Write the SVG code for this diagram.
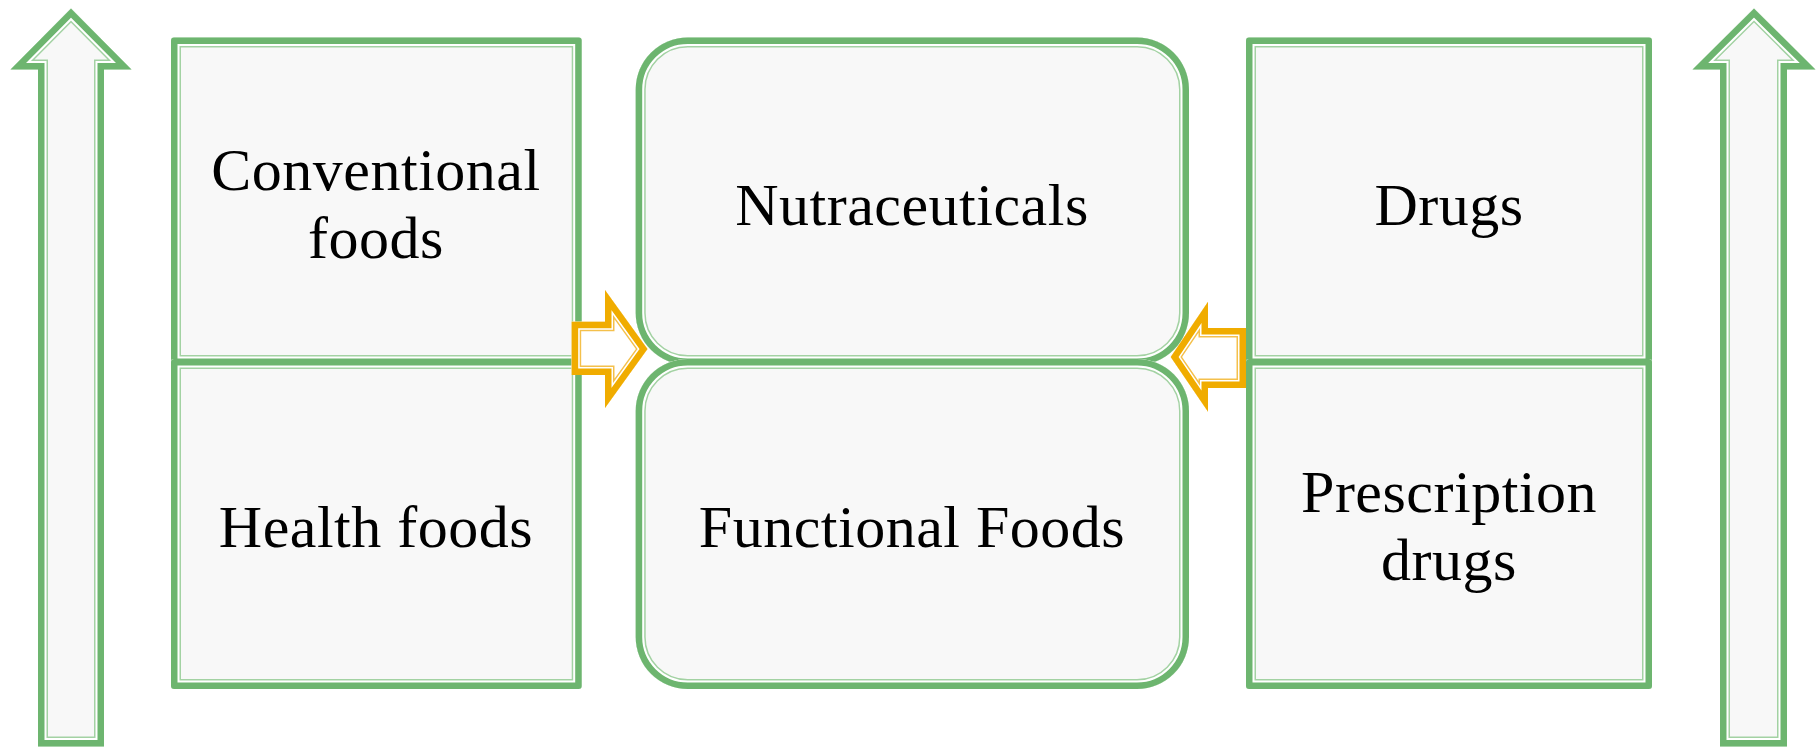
<svg xmlns="http://www.w3.org/2000/svg" xmlns:xlink="http://www.w3.org/1999/xlink" width="1819" height="747" viewBox="0 0 1819 747">
<style>
.bg{fill:#f8f8f8;stroke:none}
.g1{fill:none;stroke:#a3d2a3;stroke-width:20;stroke-linejoin:miter;stroke-miterlimit:10}
.g2{fill:none;stroke:#ffffff;stroke-width:17;stroke-linejoin:miter;stroke-miterlimit:10}
.g3{fill:none;stroke:#6db56f;stroke-width:13;stroke-linejoin:miter;stroke-miterlimit:10}
.yb{fill:#ffffff;stroke:none}
.y1{fill:none;stroke:#f4c04c;stroke-width:19;stroke-linejoin:miter;stroke-miterlimit:10}
.y2{fill:none;stroke:#ffffff;stroke-width:16;stroke-linejoin:miter;stroke-miterlimit:10}
.y3{fill:none;stroke:#f0ac00;stroke-width:13;stroke-linejoin:miter;stroke-miterlimit:10}
.t{font-family:"Liberation Serif","Times New Roman",serif;font-size:60px;fill:#000;text-anchor:middle;letter-spacing:0.5px}
</style>
<defs>
<path id="sgl" d="M71,8.5 L131.5,69.5 L104,69.5 L104,746.5 L38,746.5 L38,69.5 L10.5,69.5 Z"/>
<path id="sgr" d="M1754,8.5 L1815.5,69.5 L1787,69.5 L1787,746.5 L1720,746.5 L1720,69.5 L1692.5,69.5 Z"/>
<rect id="slt" x="171" y="37.5" width="410.7" height="327.5" rx="3"/>
<rect id="slb" x="171" y="359" width="410.7" height="330" rx="3"/>
<rect id="smt" x="635.7" y="37.5" width="553.3" height="327.5" rx="52"/>
<rect id="smb" x="635.7" y="359" width="553.3" height="330" rx="52"/>
<rect id="srt" x="1246" y="37.5" width="406" height="327.5" rx="3"/>
<rect id="srb" x="1246" y="359" width="406" height="330" rx="3"/>
<path id="syl" d="M571.7,321.7 L605,321.7 L605,290 L647.5,349 L605,408 L605,375 L571.7,375 Z"/>
<path id="syr" d="M1246,328 L1208,328 L1208,301.7 L1170.7,357 L1208,411.7 L1208,388 L1246,388 Z"/>
<clipPath id="cgl"><use xlink:href="#sgl"/></clipPath>
<clipPath id="cgr"><use xlink:href="#sgr"/></clipPath>
<clipPath id="clt"><use xlink:href="#slt"/></clipPath>
<clipPath id="clb"><use xlink:href="#slb"/></clipPath>
<clipPath id="cmt"><use xlink:href="#smt"/></clipPath>
<clipPath id="cmb"><use xlink:href="#smb"/></clipPath>
<clipPath id="crt"><use xlink:href="#srt"/></clipPath>
<clipPath id="crb"><use xlink:href="#srb"/></clipPath>
<clipPath id="cyl"><use xlink:href="#syl"/></clipPath>
<clipPath id="cyr"><use xlink:href="#syr"/></clipPath>
</defs>
<rect x="0" y="0" width="1819" height="747" fill="#ffffff"/>

<g id="arrow-left">
<use xlink:href="#sgl" class="bg"/>
<g clip-path="url(#cgl)"><use xlink:href="#sgl" class="g1"/><use xlink:href="#sgl" class="g2"/><use xlink:href="#sgl" class="g3"/></g>
</g>
<g id="arrow-right">
<use xlink:href="#sgr" class="bg"/>
<g clip-path="url(#cgr)"><use xlink:href="#sgr" class="g1"/><use xlink:href="#sgr" class="g2"/><use xlink:href="#sgr" class="g3"/></g>
</g>

<g id="conventional-foods">
<use xlink:href="#slt" class="bg"/>
<g clip-path="url(#clt)"><use xlink:href="#slt" class="g1"/><use xlink:href="#slt" class="g2"/><use xlink:href="#slt" class="g3"/></g>
<text class="t" x="376" y="190">Conventional</text>
<text class="t" x="376" y="258">foods</text>
</g>
<g id="health-foods">
<use xlink:href="#slb" class="bg"/>
<g clip-path="url(#clb)"><use xlink:href="#slb" class="g1"/><use xlink:href="#slb" class="g2"/><use xlink:href="#slb" class="g3"/></g>
<text class="t" x="376" y="547">Health foods</text>
</g>

<g id="nutraceuticals">
<use xlink:href="#smt" class="bg"/>
<g clip-path="url(#cmt)"><use xlink:href="#smt" class="g1"/><use xlink:href="#smt" class="g2"/><use xlink:href="#smt" class="g3"/></g>
<text class="t" x="912" y="225">Nutraceuticals</text>
</g>
<g id="functional-foods">
<use xlink:href="#smb" class="bg"/>
<g clip-path="url(#cmb)"><use xlink:href="#smb" class="g1"/><use xlink:href="#smb" class="g2"/><use xlink:href="#smb" class="g3"/></g>
<text class="t" x="912" y="547">Functional Foods</text>
</g>

<g id="drugs">
<use xlink:href="#srt" class="bg"/>
<g clip-path="url(#crt)"><use xlink:href="#srt" class="g1"/><use xlink:href="#srt" class="g2"/><use xlink:href="#srt" class="g3"/></g>
<text class="t" x="1449" y="225">Drugs</text>
</g>
<g id="prescription-drugs">
<use xlink:href="#srb" class="bg"/>
<g clip-path="url(#crb)"><use xlink:href="#srb" class="g1"/><use xlink:href="#srb" class="g2"/><use xlink:href="#srb" class="g3"/></g>
<text class="t" x="1449" y="512">Prescription</text>
<text class="t" x="1449" y="580">drugs</text>
</g>

<g id="connectors">
<use xlink:href="#syl" class="yb"/>
<g clip-path="url(#cyl)"><use xlink:href="#syl" class="y1"/><use xlink:href="#syl" class="y2"/><use xlink:href="#syl" class="y3"/></g>
<use xlink:href="#syr" class="yb"/>
<g clip-path="url(#cyr)"><use xlink:href="#syr" class="y1"/><use xlink:href="#syr" class="y2"/><use xlink:href="#syr" class="y3"/></g>
</g>
</svg>
